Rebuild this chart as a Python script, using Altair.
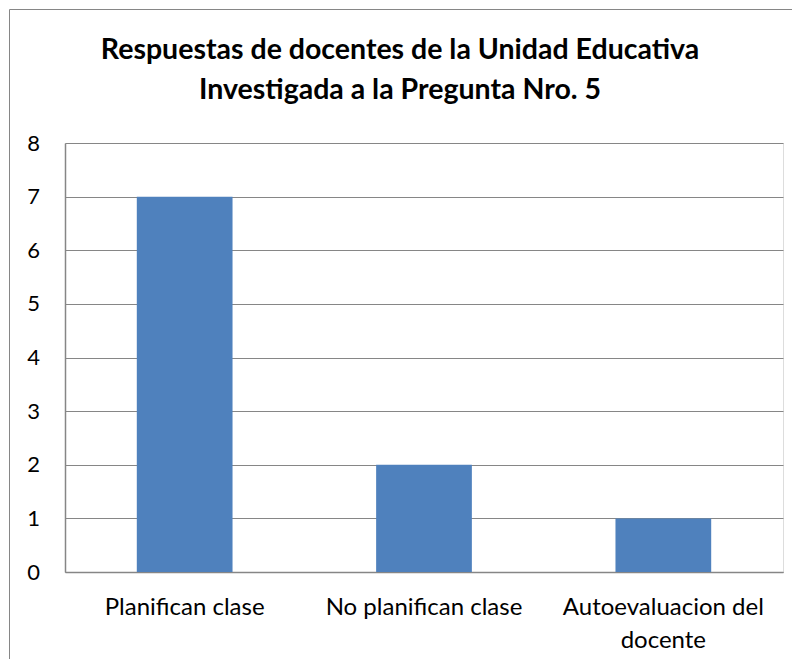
import altair as alt
import pandas as pd

categories = ["Planifican clase", "No planifican clase", "Autoevaluacion del docente"]
values = [7, 2, 1]
y_ticks = [0, 1, 2, 3, 4, 5, 6, 7, 8]
title_lines = ["Respuestas de docentes de la Unidad Educativa", "Investigada a la Pregunta Nro. 5"]

df = pd.DataFrame({"cat": categories, "val": values})

FONT = "Lato"
GRAY = "#868686"

border = alt.Chart(alt.Data(values=[{"a": 1}])).mark_rect(
    filled=False, stroke=GRAY, strokeWidth=1, clip=False
).encode(
    x=alt.value(-55.5), y=alt.value(-133.5), x2=alt.value(900), y2=alt.value(900)
)

bars = alt.Chart(df).mark_bar(color="#4F81BD").encode(
    x=alt.X(
        "cat:N",
        sort=categories,
        title=None,
        scale=alt.Scale(paddingInner=0.6, paddingOuter=0.3),
        axis=alt.Axis(
            labelAngle=0,
            labelFont=FONT,
            labelFontSize=24,
            labelColor="#000000",
            labelPadding=23,
            labelLineHeight=33,
            labelLimit=400,
            ticks=False,
            domainColor=GRAY,
            domainWidth=1.5,
            grid=False,
            labelExpr="length(datum.label) > 20 ? [slice(datum.label, 0, lastindexof(datum.label, ' ')), slice(datum.label, lastindexof(datum.label, ' ') + 1)] : datum.label",
        ),
    ),
    y=alt.Y(
        "val:Q",
        title=None,
        scale=alt.Scale(domain=[0, 8], nice=False),
        axis=alt.Axis(
            values=y_ticks,
            labelFont=FONT,
            labelFontSize=22,
            labelColor="#000000",
            labelPadding=32,
            ticks=False,
            domainColor=GRAY,
            domainWidth=1.5,
            gridColor=GRAY,
            gridWidth=1,
            labelAlign="center",
        ),
    ),
)

chart = alt.layer(border, bars).properties(
    width=718,
    height=429,
    autosize=alt.AutoSizeParams(type="none"),
    padding={"left": 57, "top": 135, "right": 9, "bottom": 87},
    title=alt.TitleParams(
        text=title_lines,
        font=FONT,
        fontSize=28.5,
        fontWeight="bold",
        color="#000000",
        anchor="middle",
        frame="group",
        dx=-24,
        offset=-95,
        lineHeight=40,
    ),
).configure_view(stroke=None).configure(background="white")

chart.save("out.html", embed_options={"renderer": "svg", "actions": False})
